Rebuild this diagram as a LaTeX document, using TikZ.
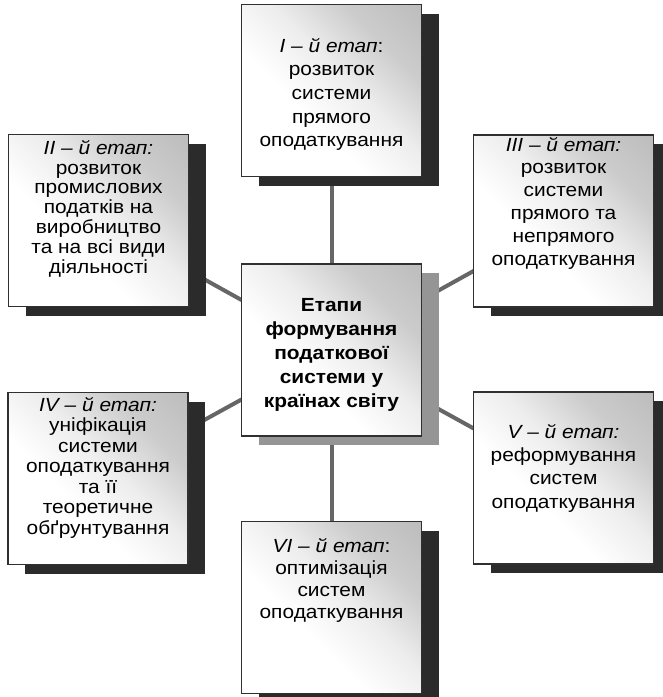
\documentclass[tikz,border=0pt]{standalone}
\usepackage{fontspec}
\setmainfont{Liberation Sans}[FakeStretch=1.1]
\usetikzlibrary{shadows,backgrounds}
\definecolor{shd}{HTML}{2B2B2B}
\definecolor{cshd}{HTML}{959595}
\definecolor{conn}{HTML}{666666}
\definecolor{brd}{HTML}{303030}
\pgfdeclareverticalshading{boxshade}{100bp}{color(0bp)=(white); color(40bp)=(white); color(55bp)=(white!93!black); color(70bp)=(white!80!black); color(100bp)=(white!68!black)}
\begin{document}
\begin{tikzpicture}[x=1pt,y=-1pt,
  stage/.style={draw=brd, line width=1.1pt, minimum width=180pt, minimum height=172pt, inner sep=0pt,
    shade, shading=boxshade, shading angle=-45,
    drop shadow={shadow xshift=17pt, shadow yshift=-9pt, fill=shd, opacity=1}},
  centre/.style={stage, drop shadow={shadow xshift=17pt, shadow yshift=-9pt, fill=cshd, opacity=1}},
  txt/.style={align=center, inner sep=0pt, text=black},
  link/.style={draw=conn, line width=4pt}]
\useasboundingbox (0,0) rectangle (663,697);
\node[centre] (C) at (331.5,350) {};
\node[stage] (I) at (331.5,90.5) {};
\node[stage] (II) at (98.5,220.5) {};
\node[stage] (III) at (563.5,221) {};
\node[stage] (IV) at (98,478.5) {};
\node[stage] (V) at (563.5,478) {};
\node[stage] (VI) at (331.5,607.5) {};
\begin{scope}[on background layer]
  \draw[link] (C.center) -- (I.center);
  \draw[link] (C.center) -- (II.center);
  \draw[link] (C.center) -- (III.center);
  \draw[link] (C.center) -- (IV.center);
  \draw[link] (C.center) -- (V.center);
  \draw[link] (C.center) -- (VI.center);
\end{scope}
\node[txt, font=\fontsize{19}{24}\selectfont\bfseries] (tC) at (331.5,355) {Етапи\\формування\\податкової\\системи у\\країнах світу};
\node[txt, font=\fontsize{19}{23.7}\selectfont] (tI) at (331.5,94.5) {\textit{I – й етап}:\\розвиток\\системи\\прямого\\оподаткування};
\node[txt, font=\fontsize{19}{19.8}\selectfont] (tII) at (98.5,208.5) {\textit{II – й етап:}\\розвиток\\промислових\\податків на\\виробництво\\та на всі види\\діяльності};
\node[txt, font=\fontsize{19}{22.8}\selectfont] (tIII) at (563.5,203) {\textit{III – й етап:}\\розвиток\\системи\\прямого та\\непрямого\\оподаткування};
\node[txt, font=\fontsize{19}{20.5}\selectfont] (tIV) at (98,467.5) {\textit{IV – й етап:}\\уніфікація\\системи\\оподаткування\\та її\\теоретичне\\обґрунтування};
\node[txt, font=\fontsize{19}{23.3}\selectfont] (tV) at (563.5,468) {\textit{V – й етап:}\\реформування\\систем\\оподаткування};
\node[txt, font=\fontsize{19}{22}\selectfont] (tVI) at (331.5,580) {\textit{VI – й етап}:\\оптимізація\\систем\\оподаткування};
\end{tikzpicture}
\end{document}
